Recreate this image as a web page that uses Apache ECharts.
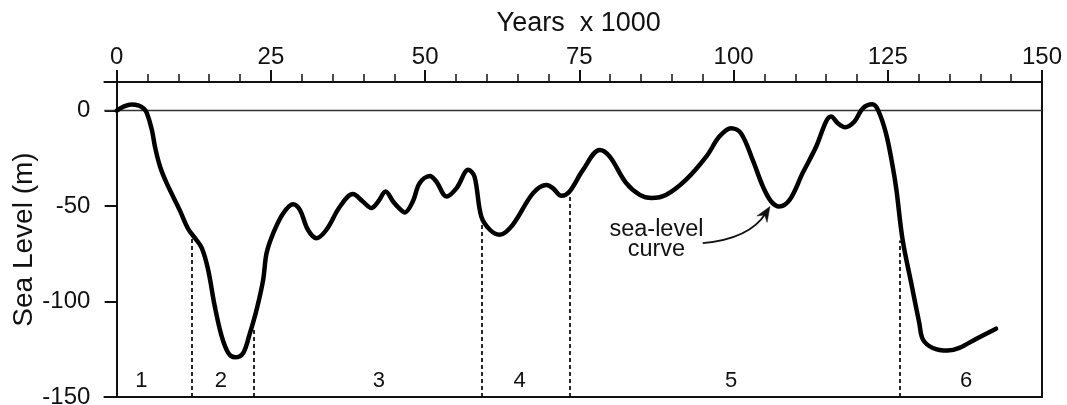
<!DOCTYPE html>
<html><head><meta charset="utf-8">
<script src="https://cdn.jsdelivr.net/npm/echarts@6/dist/echarts.min.js"></script>
<style>html,body{margin:0;padding:0;background:#fff}#c{width:1067px;height:405px}</style>
</head><body><div id="c"></div>
<script>
const years = [0,1.2,2.4,3.6,4.4,4.9,5.7,6.2,7.0,8.1,10.2,11.6,12.7,13.8,14.8,15.9,17.0,18.1,19.2,20.5,21.6,22.7,23.75,24.3,25.4,27.0,28.6,29.7,31.0,32.4,34.0,36.2,38.3,39.9,41.3,42.4,43.6,44.8,45.9,46.7,48.0,49.1,50.75,51.8,53.5,55.1,57.0,58.0,59.1,60.5,62.1,64.2,67.5,69.7,70.7,72.1,73.4,75.6,78.3,79.9,82.6,84.8,86.7,89.1,92.3,95.6,97.7,99.6,101.2,103.1,104.75,106.1,107.4,109.1,111.2,113.4,115.0,115.8,116.9,118.1,119.6,120.95,122.5,123.4,124.7,125.8,126.4,127.4,128.8,130.1,130.7,132.3,134.7,136.6,139.3,142.55];
const seaLevel = [0,2.2,3.2,2.6,1.0,-1.4,-10,-18.8,-29,-38,-52,-62,-66.8,-72,-83,-102.5,-118,-127,-129.2,-127,-116.5,-104,-88.5,-74.6,-64,-53.7,-49,-52,-62.4,-66.8,-62.4,-50.2,-43.7,-47.6,-51,-47.6,-42.4,-47.6,-51.5,-53.3,-47.6,-38,-34.2,-37.1,-45,-40.6,-31,-34.5,-55.4,-62.4,-65,-59.8,-43.2,-38.9,-40.6,-44.6,-42.4,-31,-20.6,-24,-38,-44.1,-45.8,-44.1,-36.2,-24,-13.6,-9.2,-11.8,-25.8,-39.7,-47.6,-50.2,-46.7,-32.7,-18.8,-5.7,-3.1,-6.6,-8.7,-5.7,1.2,3.3,0.4,-11.8,-29.3,-41.5,-67.6,-90.3,-111.2,-119.9,-124.3,-125.7,-124.3,-119.6,-114.2];
const xMajorTicks = [0,25,50,75,100,125,150];
const xMinorTicks = [5,10,15,20,30,35,40,45,55,60,65,70,80,85,90,95,105,110,115,120,130,135,140,145];
const yTicks = [0,-50,-100,-150];
const stageBoundaries = [12.2,22.2,59.1,73.4,126.9];
const boundaryTops = [-66,-114,-57,-45,-68];
const stageLabels = ['1','2','3','4','5','6'];
const stageLabelX = [4.0,16.9,42.5,65.3,99.6,137.7];
const stageLabelY = -141.5;
const noteText = 'sea-level\ncurve';
const noteAt = [87.5,-67.6];
const arrowFrom = [95.0,-69.4], arrowCtrl = [102.6,-67.2], arrowTo = [105.9,-50.2];

const FONT = '"Liberation Sans", Arial, Helvetica, sans-serif';
const INK = '#111';
const chart = echarts.init(document.getElementById('c'), null, {renderer:'canvas'});
chart.setOption({
  animation:false,
  backgroundColor:'#fff',
  grid:{left:104.35, right:25, top:82, bottom:8, containLabel:false, outerBoundsMode:'none'},
  xAxis:[
    {type:'value', position:'top', min:-2, max:150,
     name:'Years  x 1000', nameLocation:'middle', nameGap:45, nameMoveOverlap:false,
     nameTextStyle:{fontFamily:FONT, fontSize:27, color:INK, padding:[0,0,0,11]},
     axisLine:{onZero:false, lineStyle:{color:INK, width:2}},
     axisTick:{show:true, customValues:xMajorTicks, length:12, lineStyle:{color:INK, width:2}},
     axisLabel:{customValues:xMajorTicks, margin:13, fontFamily:FONT, fontSize:24, color:INK},
     splitLine:{show:false}},
    {type:'value', position:'top', min:-2, max:150,
     axisLine:{show:false, onZero:false},
     axisTick:{show:true, customValues:xMinorTicks, length:8, lineStyle:{color:INK, width:1.5}},
     axisLabel:{show:false}, splitLine:{show:false}},
    {type:'value', position:'bottom', min:-2, max:150,
     axisLine:{show:true, onZero:false, lineStyle:{color:INK, width:2}},
     axisTick:{show:false}, axisLabel:{show:false}, splitLine:{show:false}}
  ],
  yAxis:[
    {type:'value', position:'left', min:-150, max:15,
     name:'Sea Level (m)', nameLocation:'middle', nameGap:66, nameRotate:90, nameMoveOverlap:false,
     nameTextStyle:{fontFamily:FONT, fontSize:28, color:INK},
     axisLine:{show:true, onZero:true, onZeroAxisIndex:0, lineStyle:{color:INK, width:2}},
     axisTick:{show:true, customValues:yTicks, length:12, lineStyle:{color:INK, width:2}},
     axisLabel:{customValues:yTicks, margin:14, fontFamily:FONT, fontSize:24, color:INK},
     splitLine:{show:false}},
    {type:'value', position:'right', min:-150, max:15,
     axisLine:{show:true, onZero:false, lineStyle:{color:INK, width:2}},
     axisTick:{show:false}, axisLabel:{show:false}, splitLine:{show:false}}
  ],
  series:[
    {type:'line', xAxisIndex:0, yAxisIndex:0,
     data: years.map((y,i)=>[y, seaLevel[i]]),
     smooth:0.35, symbol:'none', z:5,
     lineStyle:{color:'#000', width:4.5, cap:'round', join:'round'},
     markLine:{silent:true, symbol:['none','none'], label:{show:false},
       data:[
         {yAxis:0, lineStyle:{color:'#333', width:1.3, type:'solid'}},
         ...stageBoundaries.map((x,i)=>[
           {coord:[x,-150], lineStyle:{color:INK, width:1.8, type:[4,3]}},
           {coord:[x,boundaryTops[i]]}
         ])
       ]}
    },
    {type:'scatter', xAxisIndex:0, yAxisIndex:0, symbolSize:1, silent:true,
     itemStyle:{color:'rgba(0,0,0,0)', opacity:1},
     data: stageLabelX.map((x,i)=>({value:[x, stageLabelY], name:stageLabels[i]})),
     label:{show:true, position:'inside', formatter:p=>p.name, fontFamily:FONT, fontSize:22,
            color:'#111', opacity:1, textBorderWidth:0}
    }
  ]
});

const P = v => chart.convertToPixel({xAxisIndex:0, yAxisIndex:0}, v);
const n0 = P(noteAt), a0 = P(arrowFrom), c0 = P(arrowCtrl), e0 = P(arrowTo);
let dx = e0[0]-c0[0], dy = e0[1]-c0[1]; const dl = Math.hypot(dx,dy); dx/=dl; dy/=dl;
const nx = -dy, ny = dx, L = 15, W = 6;
const head = [
  [e0[0], e0[1]],
  [e0[0]-dx*L+nx*W, e0[1]-dy*L+ny*W],
  [e0[0]-dx*(L-5), e0[1]-dy*(L-5)],
  [e0[0]-dx*L-nx*W, e0[1]-dy*L-ny*W]
];
chart.setOption({graphic:[
  {type:'text', x:n0[0], y:n0[1], z:10, silent:true,
   style:{text:noteText, fontFamily:FONT, fontSize:23.5, lineHeight:20, fill:INK, align:'center', verticalAlign:'middle'}},
  {type:'bezierCurve', z:10, silent:true,
   shape:{x1:a0[0], y1:a0[1], cpx1:c0[0], cpy1:c0[1], x2:e0[0]-dx*8, y2:e0[1]-dy*8},
   style:{stroke:INK, lineWidth:1.8, fill:null}},
  {type:'polygon', z:10, silent:true, shape:{points:head}, style:{fill:INK, stroke:INK, lineWidth:0.5}}
]});
</script>
</body></html>
